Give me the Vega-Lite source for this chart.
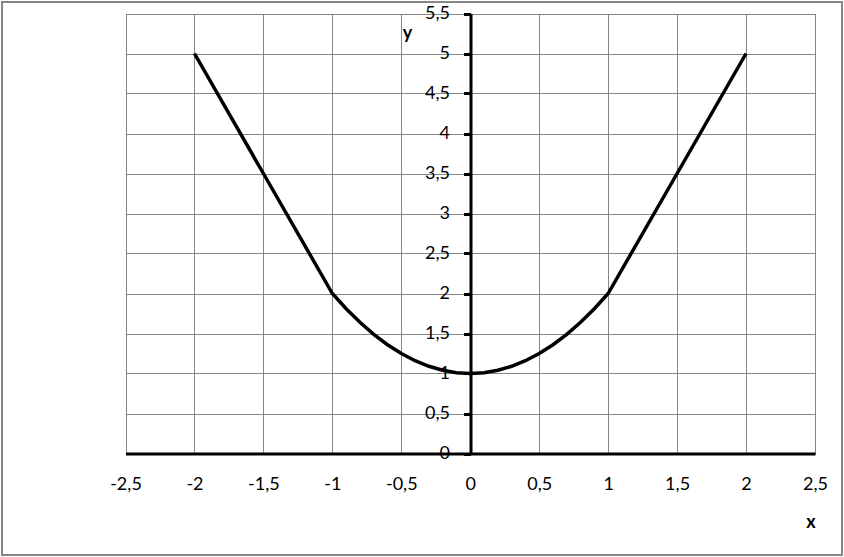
{
  "$schema": "https://vega.github.io/schema/vega-lite/v6.json",
  "width": 840,
  "height": 553,
  "autosize": {"type": "none"},
  "padding": {"left": 2, "top": 2, "right": 2, "bottom": 2},
  "background": "white",
  "config": {"view": {"stroke": "#868686", "strokeWidth": 2}, "font": "Lato"},
  "data": {"values": [
    {"x": -2, "y": 5}, {"x": -1.5, "y": 3.5}, {"x": -1, "y": 2},
    {"x": -0.9, "y": 1.81}, {"x": -0.8, "y": 1.64}, {"x": -0.7, "y": 1.49},
    {"x": -0.6, "y": 1.36}, {"x": -0.5, "y": 1.25}, {"x": -0.4, "y": 1.16},
    {"x": -0.3, "y": 1.09}, {"x": -0.2, "y": 1.04}, {"x": -0.1, "y": 1.01},
    {"x": 0, "y": 1},
    {"x": 0.1, "y": 1.01}, {"x": 0.2, "y": 1.04}, {"x": 0.3, "y": 1.09},
    {"x": 0.4, "y": 1.16}, {"x": 0.5, "y": 1.25}, {"x": 0.6, "y": 1.36},
    {"x": 0.7, "y": 1.49}, {"x": 0.8, "y": 1.64}, {"x": 0.9, "y": 1.81},
    {"x": 1, "y": 2}, {"x": 1.5, "y": 3.5}, {"x": 2, "y": 5}
  ]},
  "layer": [
    {
      "mark": {"type": "line", "color": "black", "strokeWidth": 3.5, "interpolate": "linear"},
      "encoding": {
        "x": {
          "field": "x", "type": "quantitative",
          "scale": {"domain": [-2.5, 2.5], "range": [123.5, 813], "nice": false, "zero": false},
          "axis": {
            "orient": "top", "offset": 0,
            "values": [-2.5, -2, -1.5, -1, -0.5, 0, 0.5, 1, 1.5, 2, 2.5],
            "grid": true, "gridColor": "#868686", "gridWidth": 1, "gridOpacity": 1,
            "domain": false, "ticks": false, "labels": false, "title": null
          }
        },
        "y": {
          "field": "y", "type": "quantitative",
          "scale": {"domain": [0, 5.5], "range": [451.5, 11.5], "nice": false, "zero": false},
          "axis": {
            "orient": "left", "offset": -468.5,
            "values": [0, 0.5, 1, 1.5, 2, 2.5, 3, 3.5, 4, 4.5, 5, 5.5],
            "grid": true, "gridColor": "#868686", "gridWidth": 1, "gridOpacity": 1,
            "domainColor": "black", "domainWidth": 3,
            "ticks": true, "tickColor": "black", "tickWidth": 3, "tickSize": 7,
            "labelPadding": 14, "labelFont": "Lato", "labelFontSize": 18, "labelColor": "black",
            "labelFlush": false, "labelOverlap": false, "labelBound": false,
            "labelExpr": "replace(toString(datum.value), '.', ',')",
            "title": "y", "titleFont": "Lato", "titleFontSize": 18, "titleFontWeight": "bold",
            "titleColor": "black", "titleX": -63.5, "titleY": 31,
            "titleAlign": "center", "titleBaseline": "middle", "titleAngle": 0
          }
        }
      }
    },
    {
      "mark": {"type": "line", "color": "black", "strokeWidth": 3.5, "opacity": 0},
      "encoding": {
        "x": {
          "field": "x", "type": "quantitative",
          "axis": {
            "orient": "bottom", "offset": -101.5,
            "values": [-2.5, -2, -1.5, -1, -0.5, 0, 0.5, 1, 1.5, 2, 2.5],
            "grid": false,
            "domainColor": "black", "domainWidth": 3,
            "ticks": false, "tickSize": 0,
            "labelPadding": 22, "labelFont": "Lato", "labelFontSize": 18, "labelColor": "black",
            "labelFlush": false, "labelOverlap": false, "labelBound": false,
            "labelExpr": "replace(toString(datum.value), '.', ',')",
            "title": "x", "titleFont": "Lato", "titleFontSize": 18, "titleFontWeight": "bold",
            "titleColor": "black", "titleX": 808.5, "titleY": 68.5,
            "titleAlign": "center", "titleBaseline": "middle", "titleAngle": 0
          }
        },
        "y": {"field": "y", "type": "quantitative"}
      }
    }
  ],
  "resolve": {"axis": {"x": "independent"}}
}
